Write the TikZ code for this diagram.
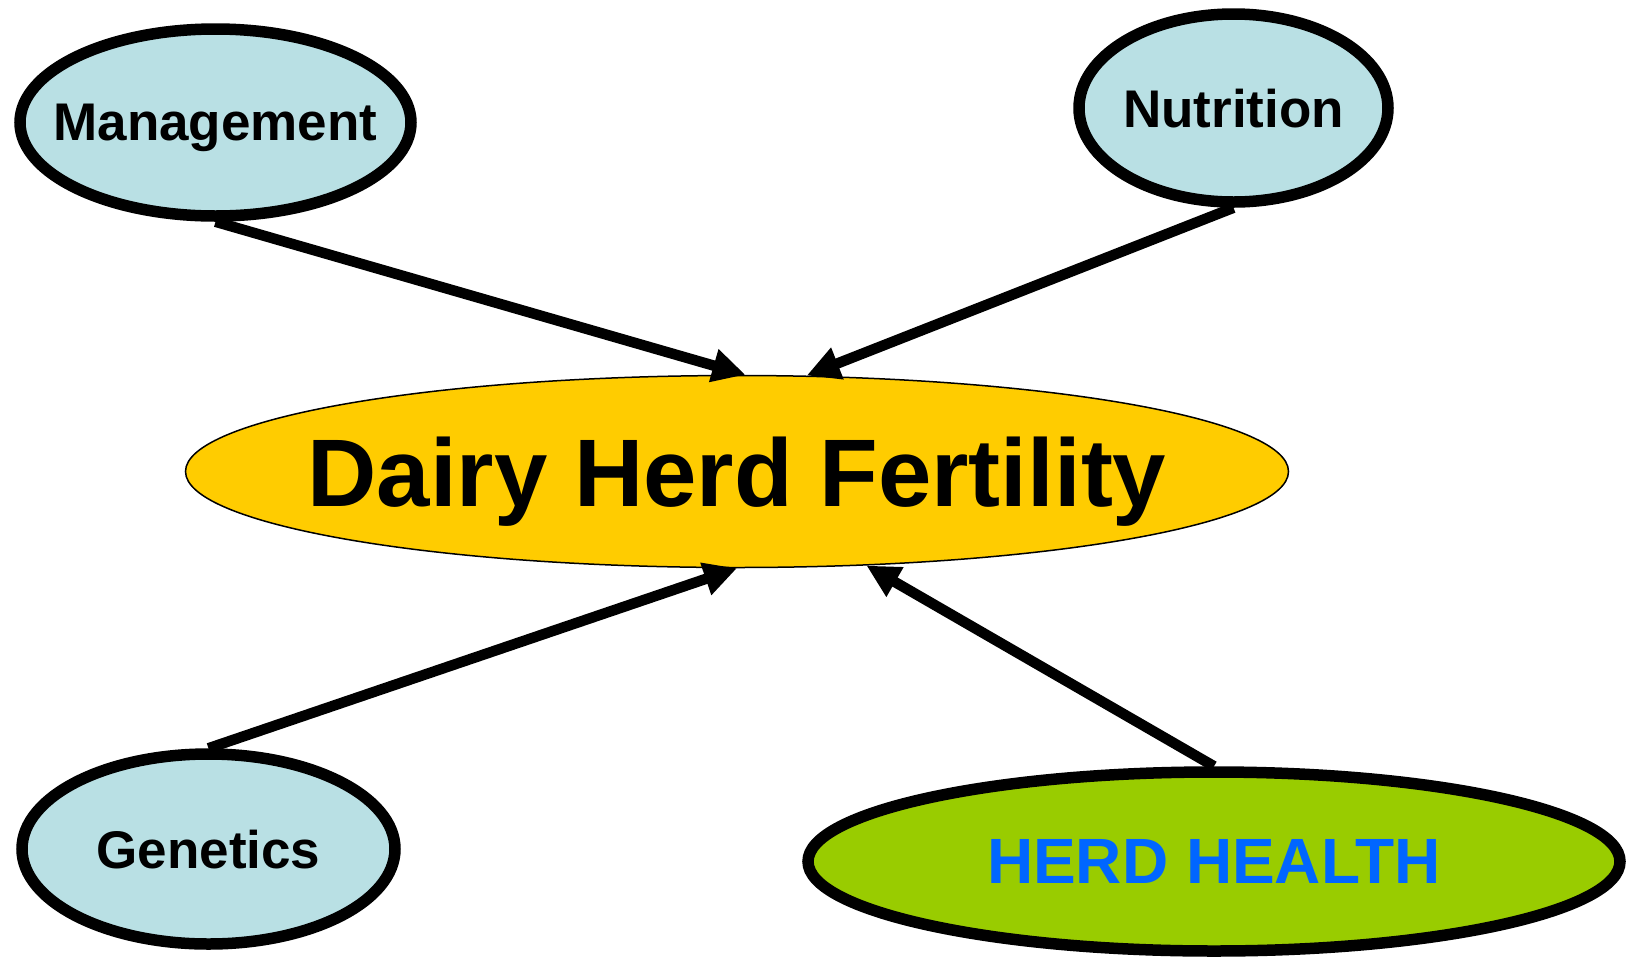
\documentclass[tikz,border=0pt]{standalone}
\usepackage{fontspec}
\setmainfont{Liberation Sans}
\usetikzlibrary{arrows.meta, shapes.geometric}
\definecolor{herdcyan}{HTML}{B9E0E4}
\definecolor{herdgold}{HTML}{FFCC00}
\definecolor{herdlime}{HTML}{99CC00}
\definecolor{herdblue}{HTML}{0066FF}

\begin{document}
\begin{tikzpicture}[x=1pt, y=-1pt,
  factor/.style={ellipse, draw=black, line width=11.5pt, fill=herdcyan,
    inner sep=0pt, text depth=0pt, font=\fontsize{53}{60}\selectfont\bfseries},
  link/.style={line width=10.5pt, -{Triangle[length=33pt, width=32pt]}}]
  \useasboundingbox (0,0) rectangle (1634,962);
  % central outcome
  \node[ellipse, draw=black, line width=1.5pt, fill=herdgold, inner sep=0pt,
        text depth=0pt, minimum width=1103pt, minimum height=192pt,
        font=\fontsize{96}{110}\selectfont\bfseries] (fertility) at (737,471.5)
        {\makebox[0pt]{Dairy Herd Fertility}};
  % contributing factors
  \node[factor, minimum width=391pt, minimum height=187pt] (management) at (215.5,122.5)
        {\makebox[0pt]{Management}};
  \node[factor, minimum width=309pt, minimum height=188pt] (nutrition) at (1233.5,108)
        {\makebox[0pt]{Nutrition}};
  \node[factor, minimum width=373pt, minimum height=190pt] (genetics) at (208.5,849)
        {\makebox[0pt]{Genetics}};
  \node[factor, fill=herdlime, text=herdblue, minimum width=812pt, minimum height=179pt,
        font=\fontsize{64}{70}\selectfont\bfseries] (health) at (1214,861.5)
        {\makebox[0pt]{HERD HEALTH}};
  % arrows into the centre
  \draw[link] (management.south) -- (fertility.85);
  \draw[link] (nutrition.south) -- (fertility.54);
  \draw[link] (genetics.north) -- (fertility.270);
  \draw[link] (health.north) -- (fertility.324);
\end{tikzpicture}
\end{document}
